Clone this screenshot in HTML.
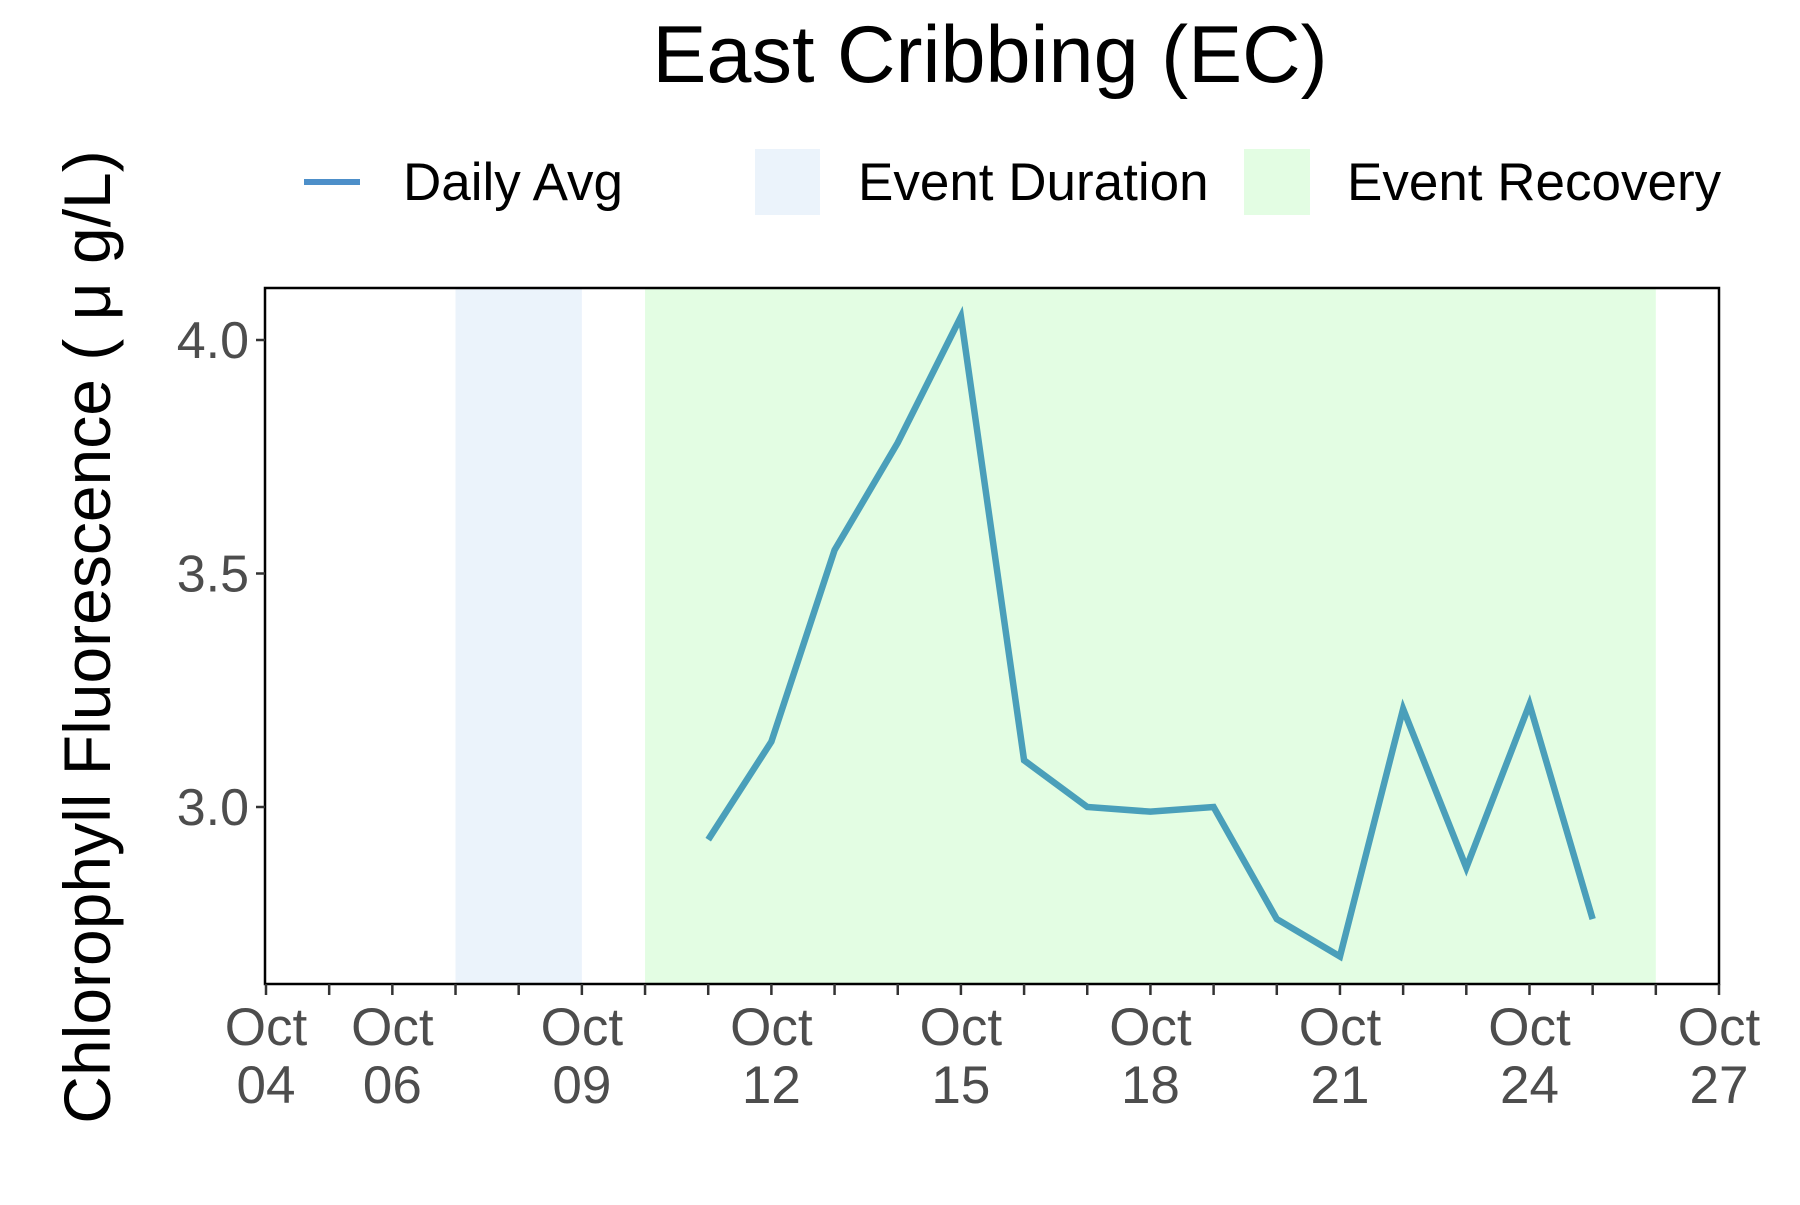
<!DOCTYPE html>
<html><head><meta charset="utf-8"><style>
body{margin:0;background:#fff}
svg text{font-family:"Liberation Sans",sans-serif}
</style></head><body>
<svg id="chart" width="1800" height="1200" viewBox="0 0 1800 1200">
<text x="990" y="82" font-size="81" text-anchor="middle">East Cribbing (EC)</text>
<g>
<line x1="304" x2="360" y1="182" y2="182" stroke="#4d8fc9" stroke-width="6"/>
<text x="403" y="200" font-size="53">Daily Avg</text>
<rect x="755" y="149" width="65" height="66" fill="#ebf3fb"/>
<text x="858" y="200" font-size="53">Event Duration</text>
<rect x="1244" y="149" width="66" height="66" fill="#e3fde3"/>
<text x="1347" y="200" font-size="53">Event Recovery</text>
</g>
<text transform="translate(110,637) rotate(-90)" font-size="66" text-anchor="middle">Chlorophyll Fluorescence ( μ g/L)</text>
<g id="plot"></g>
</svg>
<script>
const days=[11,12,13,14,15,16,17,18,19,20,21,22,23,24,25];
const values=[2.93,3.14,3.55,3.78,4.05,3.10,3.00,2.99,3.00,2.76,2.68,3.21,2.87,3.22,2.76];
const yTicks=[3.0,3.5,4.0];
const xLabelDays=[4,6,9,12,15,18,21,24,27];
const eventDuration=[7,9];
const eventRecovery=[10,26];
const L=265,R=1719,T=288,B=984;
const x=d=>266+(d-4)*(1719-266)/23;
const y=v=>807-(v-3.0)*467;
const NS="http://www.w3.org/2000/svg";
const g=document.getElementById('plot');
function mk(t,a,p){const e=document.createElementNS(NS,t);for(const k in a)e.setAttribute(k,a[k]);(p||g).appendChild(e);return e;}
let r=mk('rect',{x:x(eventDuration[0]),y:T,width:x(eventDuration[1])-x(eventDuration[0]),height:B-T,fill:'#ebf3fb'});


r=mk('rect',{x:x(eventRecovery[0]),y:T,width:x(eventRecovery[1])-x(eventRecovery[0]),height:B-T,fill:'#e3fde3'});


const pl=mk('polyline',{points:days.map((d,i)=>x(d)+','+y(values[i])).join(' '),fill:'none',stroke:'#4a9fba','stroke-width':6.5,'stroke-linejoin':'miter'});


const fr=mk('rect',{x:L,y:T,width:R-L,height:B-T,fill:'none',stroke:'#000','stroke-width':2.5});


yTicks.forEach(v=>{
 const tk=mk('line',{x1:L-9,x2:L,y1:y(v),y2:y(v),stroke:'#333','stroke-width':2.5});
 
 
 const t=mk('text',{x:L-16,y:y(v)+18,'font-size':52,'text-anchor':'end',fill:'#4d4d4d'});
 t.textContent=v.toFixed(1);
 
 
});
for(let d=4;d<=27;d++){
 const tk=mk('line',{x1:x(d),x2:x(d),y1:B,y2:B+11,stroke:'#333','stroke-width':2.5});
 
 
}
xLabelDays.forEach(d=>{
 const t=mk('text',{x:x(d),y:1045,'font-size':53,'text-anchor':'middle',fill:'#4d4d4d'});
 
 
 const a=mk('tspan',{x:x(d),dy:0},t);a.textContent='Oct';
 const b=mk('tspan',{x:x(d),dy:58},t);b.textContent=String(d).padStart(2,'0');
});
</script>
</body></html>
